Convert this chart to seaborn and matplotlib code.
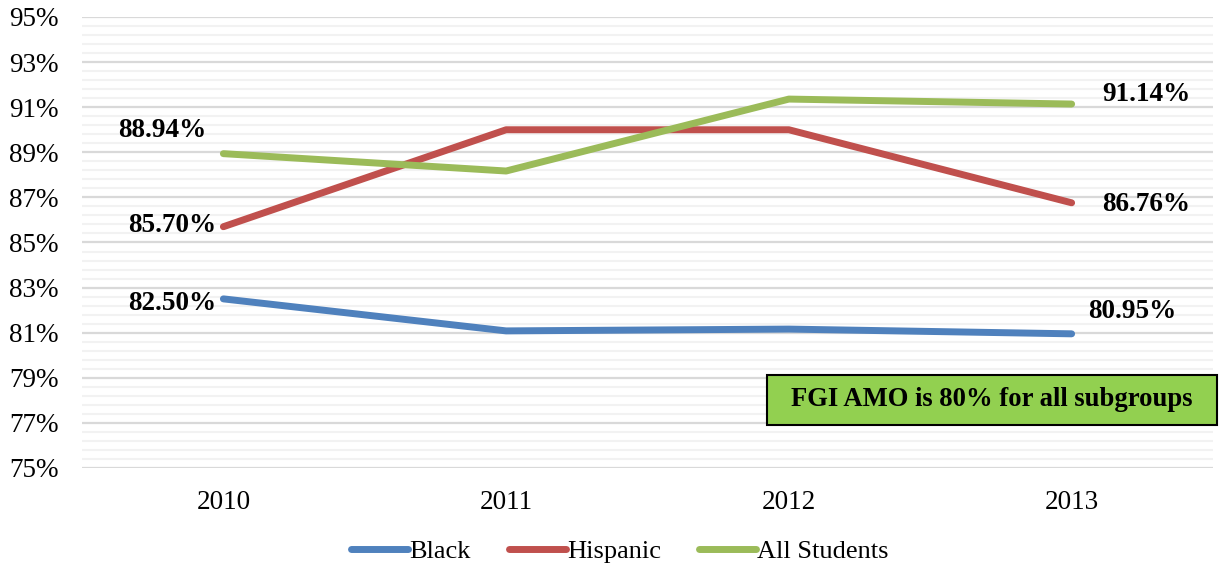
import matplotlib
matplotlib.use("Agg")
import matplotlib.pyplot as plt
from matplotlib.patches import Rectangle
from matplotlib.ticker import FixedLocator, FuncFormatter
import numpy as np
import pandas as pd
import seaborn as sns

years = ["2010", "2011", "2012", "2013"]
black = [82.50, 81.08, 81.16, 80.95]
hispanic = [85.70, 90.00, 90.00, 86.76]
all_students = [88.94, 88.17, 91.36, 91.14]
groups = ["Black", "Hispanic", "All Students"]
colors = ["#4F81BD", "#C0504D", "#9BBB59"]
note = "FGI AMO is 80% for all subgroups"

sns.set_theme(style="white")
plt.rcParams["font.family"] = ["Liberation Serif", "DejaVu Serif"]
plt.rcParams["text.color"] = "black"

series = {"Black": black, "Hispanic": hispanic, "All Students": all_students}
df = pd.DataFrame(
    [(i, g, v) for g in groups for i, v in enumerate(series[g])],
    columns=["pos", "group", "rate"],
)

fig = plt.figure(figsize=(12.21, 5.69), dpi=100)
ax = fig.add_axes([82 / 1221, 1 - 468 / 569, (1213 - 82) / 1221, (468 - 17) / 569])

sns.lineplot(data=df, x="pos", y="rate", hue="group", hue_order=groups,
             palette=colors, linewidth=5, ax=ax, legend=True,
             solid_capstyle="round", zorder=3)

ax.set_xlim(-0.5, 3.5)
ax.set_ylim(75, 95)
ax.yaxis.set_major_locator(FixedLocator(np.arange(75, 95.01, 2)))
ax.yaxis.set_minor_locator(FixedLocator(np.arange(75, 95.01, 0.4)))
ax.yaxis.set_major_formatter(FuncFormatter(lambda v, _: f"{v:.0f}%"))
ax.set_xticks(range(len(years)))
ax.set_xticklabels(years)
ax.grid(axis="y", which="major", color="#D9D9D9", linewidth=1.6, zorder=0)
ax.grid(axis="y", which="minor", color="#F2F2F2", linewidth=1.5, zorder=0)
ax.grid(axis="x", visible=False)
ax.set_axisbelow(True)
for s in ax.spines.values():
    s.set_visible(False)
ax.tick_params(axis="both", which="both", length=0, labelsize=19.5, colors="black")
ax.tick_params(axis="x", pad=16)
ax.tick_params(axis="y", pad=17)
ax.set_xlabel("")
ax.set_ylabel("")

# value labels at the first and last year
lab_kw = dict(fontsize=19.5, fontweight="bold", color="black", zorder=5)
ax.annotate(f"{all_students[0]:.2f}%", (0, all_students[0]), xytext=(-44, 17),
            textcoords="offset points", ha="center", va="center", **lab_kw)
ax.annotate(f"{hispanic[0]:.2f}%", (0, hispanic[0]), xytext=(-5, 1),
            textcoords="offset points", ha="right", va="center", **lab_kw)
ax.annotate(f"{black[0]:.2f}%", (0, black[0]), xytext=(-5, -3),
            textcoords="offset points", ha="right", va="center", **lab_kw)
ax.annotate(f"{all_students[-1]:.2f}%", (3, all_students[-1]), xytext=(22, 7),
            textcoords="offset points", ha="left", va="center", **lab_kw)
ax.annotate(f"{hispanic[-1]:.2f}%", (3, hispanic[-1]), xytext=(22, -1.5),
            textcoords="offset points", ha="left", va="center", **lab_kw)
ax.annotate(f"{black[-1]:.2f}%", (3, black[-1]), xytext=(12, 16),
            textcoords="offset points", ha="left", va="center", **lab_kw)

# note box
bx0 = (767 - 82) / (1213 - 82)
bx1 = (1217 - 82) / (1213 - 82)
by0 = (468 - 425) / 451
by1 = (468 - 375) / 451
ax.add_patch(Rectangle((bx0, by0), bx1 - bx0, by1 - by0, transform=ax.transAxes,
                       facecolor="#92D050", edgecolor="black", linewidth=1.5,
                       clip_on=False, zorder=6))
ax.text((bx0 + bx1) / 2, (by0 + by1) / 2, note, transform=ax.transAxes,
        ha="center", va="center", fontsize=19.2, fontweight="bold",
        color="black", zorder=7)

handles, labels = ax.get_legend_handles_labels()
ax.get_legend().remove()
for h in handles:
    h.set_solid_capstyle("round")
fig.legend(handles, labels, loc="center", bbox_to_anchor=(620 / 1221, 1 - 551 / 569),
           ncol=3, frameon=False, fontsize=19, handlelength=2.15,
           handletextpad=0.05, columnspacing=1.45, labelcolor="black")

fig.savefig("out.png", dpi=100, facecolor="white")
